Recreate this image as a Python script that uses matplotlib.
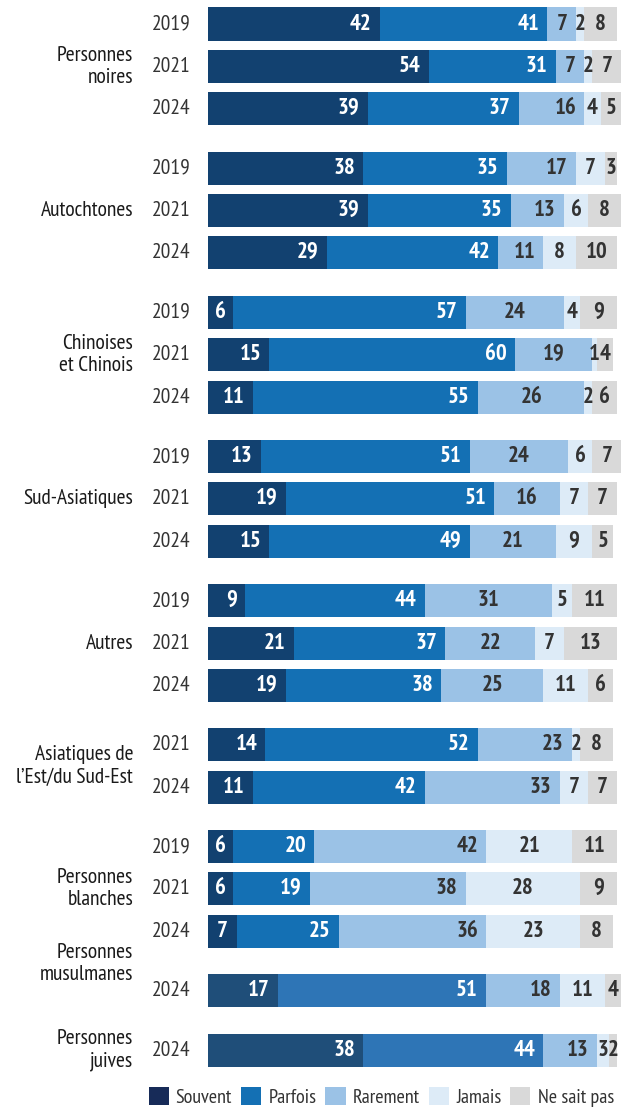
import matplotlib
matplotlib.use("Agg")
import matplotlib.pyplot as plt
from matplotlib.patches import Patch

plt.rcParams['font.family'] = ['PT Sans Narrow', 'DejaVu Sans']

categories = ["Souvent", "Parfois", "Rarement", "Jamais", "Ne sait pas"]

groups = ["Personnes\nnoires", "Autochtones", "Chinoises\net Chinois", "Sud-Asiatiques",
          "Autres", "Asiatiques de\nl’Est/du Sud-Est", "Personnes\nblanches",
          "Personnes\nmusulmanes", "Personnes\njuives"]

years = [
    ["2019", "2021", "2024"],
    ["2019", "2021", "2024"],
    ["2019", "2021", "2024"],
    ["2019", "2021", "2024"],
    ["2019", "2021", "2024"],
    ["2021", "2024"],
    ["2019", "2021", "2024"],
    ["2024"],
    ["2024"],
]

values = [
    [[42, 41, 7, 2, 8], [54, 31, 7, 2, 7], [39, 37, 16, 4, 5]],
    [[38, 35, 17, 7, 3], [39, 35, 13, 6, 8], [29, 42, 11, 8, 10]],
    [[6, 57, 24, 4, 9], [15, 60, 19, 1, 4], [11, 55, 26, 2, 6]],
    [[13, 51, 24, 6, 7], [19, 51, 16, 7, 7], [15, 49, 21, 9, 5]],
    [[9, 44, 31, 5, 11], [21, 37, 22, 7, 13], [19, 38, 25, 11, 6]],
    [[14, 52, 23, 2, 8], [11, 42, 33, 7, 7]],
    [[6, 20, 42, 21, 11], [6, 19, 38, 28, 9], [7, 25, 36, 23, 8]],
    [[17, 51, 18, 11, 4]],
    [[38, 44, 13, 3, 2]],
]

# styles
colors = ["#124170", "#1470b4", "#9bc2e6", "#ddebf7", "#d9d9d9"]
colors_alt = ["#1f4e79", "#2e75b6", "#9bc2e6", "#ddebf7", "#d9d9d9"]
legend_colors = ["#172b58", "#1470b4", "#9bc2e6", "#ddebf7", "#d9d9d9"]
alt_groups = {7, 8}
center_rare = {2, 3, 4}
label_offset = {7: -0.65}

W, H = 628, 1112
PX = 4.09        # pixels per percent
X0 = 208         # left edge of bars in px
ROW = 42.4       # px per row
Y0 = 24          # first bar center in px
GAP = 0.4        # extra space between groups (rows)
FS = 15.5
FS_VAL = 16.5

fig = plt.figure(figsize=(W / 100, H / 100), dpi=100)
ax = fig.add_axes([0, 0, 1, 1])
ax.set_xlim(-X0 / PX, (W - X0) / PX)
ax.set_ylim((H - Y0) / ROW, -Y0 / ROW)
ax.axis("off")

y = 0.0
for gi, g in enumerate(groups):
    cols = colors_alt if gi in alt_groups else colors
    ys = []
    for yr, vals in zip(years[gi], values[gi]):
        left = 0
        for ci, v in enumerate(vals):
            ax.barh(y, v, left=left, height=0.78, color=cols[ci], linewidth=0)
            tc = "white" if ci < 2 else "#333333"
            if ci <= 2 and v >= 8 and not (ci == 2 and gi in center_rare):
                ax.text(left + v - 2.0, y, str(v), ha="right", va="center",
                        color=tc, fontsize=FS_VAL, fontweight="bold")
            else:
                ax.text(left + v / 2, y, str(v), ha="center", va="center",
                        color=tc, fontsize=FS_VAL, fontweight="bold")
            left += v
        ax.text(-4.2, y, yr, ha="right", va="center", color="#333333", fontsize=FS)
        ys.append(y)
        y += 1
    yc = (ys[0] + ys[-1]) / 2 + label_offset.get(gi, 0)
    ax.text(-18.3, yc, g, ha="right", va="center", color="#1a1a1a", fontsize=FS,
            linespacing=1.2, multialignment="right")
    y += GAP

handles = [Patch(facecolor=c, edgecolor="none", label=l) for c, l in zip(legend_colors, categories)]
fig.legend(handles=handles, loc="lower center", bbox_to_anchor=(0.607, -0.012), ncol=5,
           frameon=False, fontsize=14.5, handlelength=1.0, handleheight=1.0,
           handletextpad=0.35, columnspacing=0.45, labelcolor="#333333")

fig.savefig("out.png", dpi=100)
